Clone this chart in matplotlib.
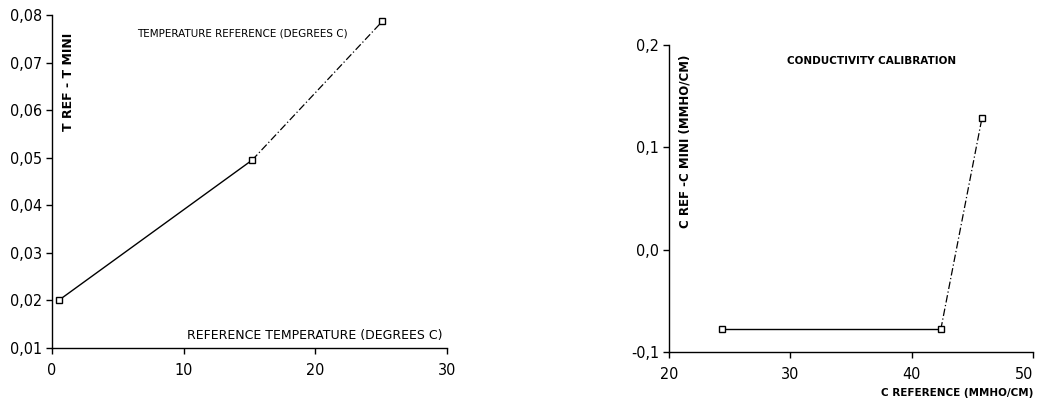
import matplotlib
matplotlib.use("Agg")
from matplotlib import pyplot as plt
from matplotlib.ticker import FuncFormatter


# painel da esquerda: temperatura
temp_ref = [0.5, 15.2, 25.1]
temp_dif = [0.020, 0.0495, 0.0787]
temp_xticks = [0, 10, 20, 30]
temp_yticks = [0.01, 0.02, 0.03, 0.04, 0.05, 0.06, 0.07, 0.08]

# painel da direita: condutividade
cond_ref = [24.4, 42.4, 45.8]
cond_dif = [-0.078, -0.078, 0.129]
cond_xticks = [20, 30, 40, 50]
cond_yticks = [-0.1, 0.0, 0.1, 0.2]

plt.rcParams['font.family'] = ['DejaVu Sans']


def virgula(casas):
    def f(v, pos):
        return f"{v:.{casas}f}".replace(".", ",")
    return FuncFormatter(f)


def prepara_eixo(ax):
    for lado in ['top', 'right']:
        ax.spines[lado].set_visible(False)
    for lado in ['left', 'bottom']:
        ax.spines[lado].set_linewidth(1.0)
    ax.tick_params(direction='out', length=4, width=1, labelsize=11.5)
    ax.tick_params(axis='x', pad=7)
    ax.tick_params(axis='y', pad=3)
    for t in ax.get_xticklabels() + ax.get_yticklabels():
        t.set_fontstretch('condensed')


def desenha(ax, xs, ys):
    # primeiro troço cheio, segundo tracejado-ponto
    ax.plot(xs[:2], ys[:2], color='black', lw=1.0, ls='-')
    ax.plot(xs[1:], ys[1:], color='black', lw=0.9, ls=(0, (6, 2, 1, 2)))
    ax.plot(xs, ys, ls='none', marker='s', ms=5, mfc='white', mec='black', mew=1.0)


fig = plt.figure(figsize=(10.4, 3.99), dpi=100)

ax1 = fig.add_axes([52 / 1040, 1 - 348 / 399, 395 / 1040, 333 / 399])
desenha(ax1, temp_ref, temp_dif)
ax1.set_xlim(0, 30)
ax1.set_ylim(0.01, 0.08)
ax1.set_xticks(temp_xticks)
ax1.set_yticks(temp_yticks)
ax1.xaxis.set_major_formatter(FuncFormatter(lambda v, p: f"{v:.0f}"))
ax1.yaxis.set_major_formatter(virgula(2))
prepara_eixo(ax1)
ax1.text(137 / 1040, 1 - 34 / 399, "TEMPERATURE REFERENCE (DEGREES C)", transform=fig.transFigure,
         fontsize=7.5, va='center', ha='left')
ax1.text(187 / 1040, 1 - 336 / 399, "REFERENCE TEMPERATURE (DEGREES C)", transform=fig.transFigure,
         fontsize=9, va='center', ha='left')
ax1.text(68 / 1040, 1 - 82 / 399, "T REF - T MINI", transform=fig.transFigure,
         fontsize=9, fontweight='bold', rotation=90, va='center', ha='center')

ax2 = fig.add_axes([669 / 1040, 1 - 352 / 399, 364 / 1040, 307 / 399])
desenha(ax2, cond_ref, cond_dif)
ax2.set_xlim(20, 50)
ax2.set_ylim(-0.1, 0.2)
ax2.set_xticks(cond_xticks)
ax2.set_yticks(cond_yticks)
ax2.xaxis.set_major_formatter(FuncFormatter(lambda v, p: f"{v:.0f}"))
ax2.yaxis.set_major_formatter(virgula(1))
prepara_eixo(ax2)
ax2.get_xticklabels()[-1].set_horizontalalignment('right')
ax2.text(787 / 1040, 1 - 61 / 399, "CONDUCTIVITY CALIBRATION", transform=fig.transFigure,
         fontsize=7.5, fontweight='bold', va='center', ha='left')
ax2.text(685 / 1040, 1 - 141 / 399, "C REF -C MINI (MMHO/CM)", transform=fig.transFigure,
         fontsize=8.5, fontweight='bold', rotation=90, va='center', ha='center')
ax2.text(1033 / 1040, 1 - 393 / 399, "C REFERENCE (MMHO/CM)", transform=fig.transFigure,
         fontsize=7.5, fontweight='bold', va='center', ha='right')

fig.savefig("out.png", dpi=100)
